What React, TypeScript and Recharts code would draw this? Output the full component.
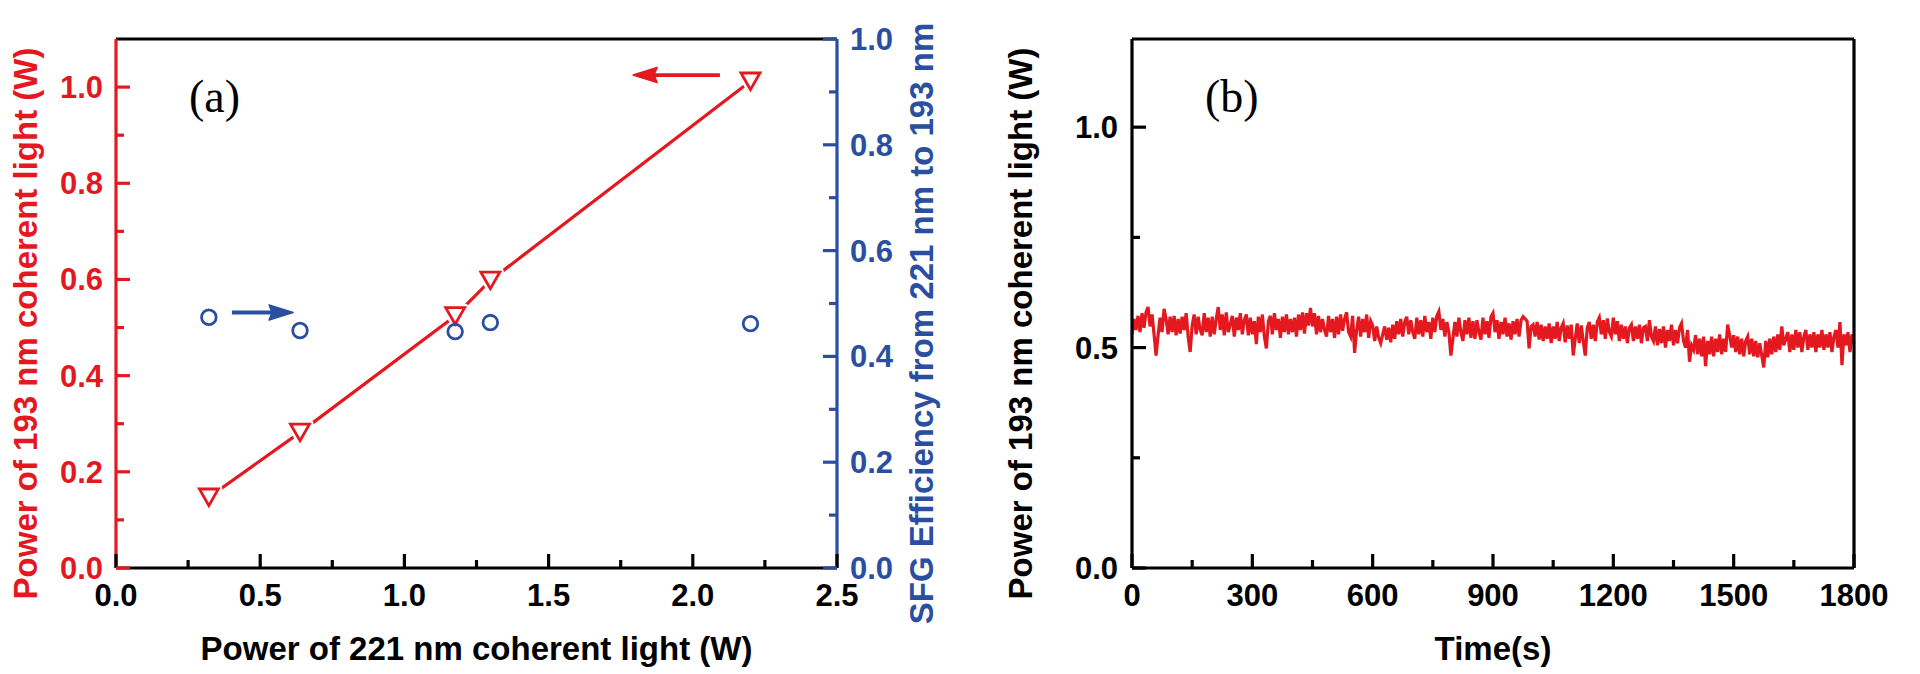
import React from 'react';
import { ComposedChart, LineChart, Line, Scatter, XAxis, YAxis, ReferenceLine, Label } from 'recharts';

const RED = '#E3191F';
const BLUE = '#2A4FA0';
const BLACK = '#000000';
const FONT = '"Liberation Sans", Arial, sans-serif';
const SERIF = '"Liberation Serif", "DejaVu Serif", serif';

// ---------- panel (a) data ----------
const pump221W = [0.322, 0.638, 1.176, 1.298, 2.2];
const power193W = [0.147, 0.282, 0.524, 0.598, 1.012];
const sfgEfficiency = [0.474, 0.449, 0.447, 0.464, 0.462];

const xTicksA = [0, 0.25, 0.5, 0.75, 1.0, 1.25, 1.5, 1.75, 2.0, 2.25, 2.5];
const xMajorA = [0, 0.5, 1.0, 1.5, 2.0, 2.5];
const leftTicksA = [0, 0.1, 0.2, 0.3, 0.4, 0.5, 0.6, 0.7, 0.8, 0.9, 1.0];
const leftMajorA = [0, 0.2, 0.4, 0.6, 0.8, 1.0];
const rightTicksA = [0, 0.1, 0.2, 0.3, 0.4, 0.5, 0.6, 0.7, 0.8, 0.9, 1.0];
const rightMajorA = [0, 0.2, 0.4, 0.6, 0.8, 1.0];

// annotation arrows (data units)
const effArrow = [{ x: 0.402, y: 0.483 }, { x: 0.614, y: 0.483 }];
const powArrow = [{ x: 2.094, y: 1.025 }, { x: 1.793, y: 1.025 }];

// ---------- panel (b) data ----------
const sampleIntervalS = 5;
const power193Time = [
  0.53, 0.565, 0.54, 0.572, 0.535, 0.578, 0.545, 0.58, 0.592, 0.548, 0.575, 0.53, 0.482, 0.528, 0.568, 0.535, 0.588, 0.565, 0.53, 0.57,
  0.535, 0.572, 0.528, 0.565, 0.532, 0.57, 0.54, 0.578, 0.525, 0.49, 0.55, 0.575, 0.53, 0.57, 0.54, 0.528, 0.578, 0.535, 0.568, 0.525,
  0.57, 0.53, 0.565, 0.592, 0.54, 0.575, 0.528, 0.58, 0.535, 0.552, 0.572, 0.525, 0.568, 0.54, 0.578, 0.53, 0.562, 0.575, 0.528, 0.568,
  0.53, 0.56, 0.508, 0.57, 0.535, 0.575, 0.525, 0.498, 0.56, 0.572, 0.53, 0.578, 0.54, 0.565, 0.522, 0.57, 0.535, 0.575, 0.53, 0.565,
  0.535, 0.568, 0.525, 0.575, 0.54, 0.58, 0.532, 0.578, 0.55, 0.59, 0.548, 0.578, 0.53, 0.572, 0.535, 0.565, 0.54, 0.525, 0.572, 0.535,
  0.565, 0.522, 0.57, 0.53, 0.575, 0.538, 0.565, 0.58, 0.535, 0.525, 0.572, 0.488, 0.54, 0.57, 0.525, 0.565, 0.535, 0.575, 0.522, 0.56,
  0.55, 0.515, 0.548, 0.522, 0.51, 0.53, 0.548, 0.518, 0.545, 0.512, 0.552, 0.52, 0.56, 0.53, 0.565, 0.525, 0.558, 0.57, 0.53, 0.562,
  0.535, 0.52, 0.568, 0.53, 0.562, 0.525, 0.572, 0.535, 0.558, 0.52, 0.568, 0.535, 0.572, 0.582, 0.54, 0.565, 0.525, 0.558, 0.535, 0.482,
  0.52, 0.558, 0.525, 0.568, 0.535, 0.515, 0.562, 0.53, 0.568, 0.522, 0.56, 0.52, 0.562, 0.535, 0.518, 0.568, 0.53, 0.56, 0.522, 0.57,
  0.578, 0.535, 0.562, 0.52, 0.558, 0.53, 0.568, 0.525, 0.555, 0.518, 0.56, 0.53, 0.565, 0.525, 0.562, 0.57, 0.565, 0.56, 0.498, 0.548,
  0.552, 0.525, 0.558, 0.518, 0.552, 0.515, 0.548, 0.52, 0.555, 0.51, 0.548, 0.52, 0.558, 0.515, 0.545, 0.555, 0.512, 0.55, 0.52, 0.552,
  0.482, 0.52, 0.555, 0.51, 0.55, 0.515, 0.482, 0.545, 0.558, 0.52, 0.552, 0.515, 0.558, 0.568, 0.53, 0.562, 0.52, 0.566, 0.535, 0.525,
  0.568, 0.53, 0.56, 0.515, 0.552, 0.52, 0.548, 0.51, 0.545, 0.552, 0.515, 0.548, 0.52, 0.552, 0.51, 0.545, 0.548, 0.515, 0.562, 0.525,
  0.515, 0.548, 0.505, 0.542, 0.51, 0.548, 0.5, 0.54, 0.515, 0.552, 0.505, 0.54, 0.51, 0.545, 0.555, 0.515, 0.5, 0.54, 0.468, 0.505,
  0.495, 0.528, 0.485, 0.52, 0.48, 0.525, 0.458, 0.515, 0.485, 0.525, 0.48, 0.52, 0.49, 0.53, 0.485, 0.52, 0.49, 0.552, 0.528, 0.5,
  0.528, 0.49, 0.525, 0.485, 0.52, 0.48, 0.515, 0.525, 0.485, 0.52, 0.48, 0.515, 0.478, 0.51, 0.482, 0.455, 0.515, 0.478, 0.52, 0.485,
  0.525, 0.49, 0.53, 0.495, 0.548, 0.505, 0.52, 0.535, 0.49, 0.53, 0.495, 0.54, 0.5, 0.535, 0.49, 0.525, 0.54, 0.495, 0.53, 0.5,
  0.535, 0.49, 0.53, 0.5, 0.54, 0.495, 0.53, 0.5, 0.535, 0.49, 0.525, 0.54, 0.5, 0.558, 0.46, 0.53, 0.505, 0.535, 0.49, 0.53,
  0.51,
];

const xTicksB = [0, 150, 300, 450, 600, 750, 900, 1050, 1200, 1350, 1500, 1650, 1800];
const xMajorB = [0, 300, 600, 900, 1200, 1500, 1800];
const yTicksB = [0, 0.25, 0.5, 0.75, 1.0];
const yMajorB = [0, 0.5, 1.0];

// ---------- tables ----------
const tableA = pump221W.map((x, i) => ({ x, p193: power193W[i], eff: sfgEfficiency[i] }));
const tableB = power193Time.map((p, i) => ({ t: i * sampleIntervalS, p }));

// ---------- helpers ----------
const isMajor = (v: number, majors: number[]) => majors.some((m) => Math.abs(m - v) < 1e-9);
const MAJOR_LEN = 14;
const MINOR_LEN = 8;
const TICK_W = 3.2;
const TICK_FS = 31;

const bottomTick = (majors: number[], fmt: (v: number) => string, color: string) => (props: any) => {
  const { x, y, payload } = props;
  const v = payload.value;
  const maj = isMajor(v, majors);
  return (
    <g>
      <line x1={x} x2={x} y1={y} y2={y - (maj ? MAJOR_LEN : MINOR_LEN)} stroke={color} strokeWidth={TICK_W} />
      {maj && (
        <text x={x} y={y + 38} textAnchor="middle" fill={color} fontFamily={FONT} fontWeight={700} fontSize={TICK_FS}>
          {fmt(v)}
        </text>
      )}
    </g>
  );
};

const leftTick = (majors: number[], fmt: (v: number) => string, color: string, gap: number) => (props: any) => {
  const { x, y, payload } = props;
  const v = payload.value;
  const maj = isMajor(v, majors);
  return (
    <g>
      <line x1={x} x2={x + (maj ? MAJOR_LEN : MINOR_LEN)} y1={y} y2={y} stroke={color} strokeWidth={TICK_W} />
      {maj && (
        <text x={x - gap} y={y + 11} textAnchor="end" fill={color} fontFamily={FONT} fontWeight={700} fontSize={TICK_FS}>
          {fmt(v)}
        </text>
      )}
    </g>
  );
};

const rightTick = (majors: number[], fmt: ((v: number) => string) | null, color: string, gap: number) => (props: any) => {
  const { x, y, payload } = props;
  const v = payload.value;
  const maj = isMajor(v, majors);
  return (
    <g>
      <line x1={x} x2={x - (maj ? MAJOR_LEN : MINOR_LEN)} y1={y} y2={y} stroke={color} strokeWidth={TICK_W} />
      {maj && fmt && (
        <text x={x + gap} y={y + 11} textAnchor="start" fill={color} fontFamily={FONT} fontWeight={700} fontSize={TICK_FS}>
          {fmt(v)}
        </text>
      )}
    </g>
  );
};

const fmt1 = (v: number) => v.toFixed(1);
const fmt0 = (v: number) => String(Math.round(v));

type Place = (vb: any) => { x: number; y: number; rot: boolean };
const titleLabel = (text: string, color: string, place: Place) => (props: any) => {
  const vb = props.viewBox || { x: 0, y: 0, width: 0, height: 0 };
  const { x, y, rot } = place(vb);
  return (
    <text
      x={x}
      y={y}
      transform={rot ? `rotate(-90 ${x} ${y})` : undefined}
      textAnchor="middle"
      fill={color}
      fontFamily={FONT}
      fontWeight={700}
      fontSize={33}
    >
      {text}
    </text>
  );
};

const panelLabel = (text: string) => (props: any) => {
  const vb = props.viewBox || { x: 0, y: 0, width: 0, height: 0 };
  return (
    <text x={vb.x + 73} y={vb.y + vb.height + 73} textAnchor="start" fill={BLACK} fontFamily={SERIF} fontSize={46}>
      {text}
    </text>
  );
};

const arrowShape = (color: string) => (props: any) => {
  const { x1, y1, x2, y2 } = props;
  const dx = x2 - x1;
  const dy = y2 - y1;
  const len = Math.sqrt(dx * dx + dy * dy) || 1;
  const ux = dx / len;
  const uy = dy / len;
  const headL = 24;
  const headW = 7.5;
  const bx = x2 - ux * headL;
  const by = y2 - uy * headL;
  const pts = `${x2},${y2} ${bx - uy * headW},${by + ux * headW} ${bx + ux * 3},${by + uy * 3} ${bx + uy * headW},${by - ux * headW}`;
  return (
    <g>
      <line x1={x1} y1={y1} x2={bx + ux * 5} y2={by + uy * 5} stroke={color} strokeWidth={3.8} />
      <polygon points={pts} fill={color} stroke={color} strokeWidth={1.5} strokeLinejoin="round" />
    </g>
  );
};

const TriangleDot = (props: any) => {
  const { cx, cy, index } = props;
  if (cx == null || cy == null) return <g key={`tri-${index}`} />;
  const hw = 9.5;
  const hh = 8.3;
  const pts = `${cx - hw},${cy - hh} ${cx + hw},${cy - hh} ${cx},${cy + hh}`;
  return (
    <g key={`tri-${index}`}>
      <polygon points={pts} fill="#ffffff" stroke="#ffffff" strokeWidth={8} strokeLinejoin="round" />
      <polygon points={pts} fill="#ffffff" stroke={RED} strokeWidth={2.8} strokeLinejoin="miter" />
    </g>
  );
};

const CircleShape = (props: any) => {
  const { cx, cy } = props;
  if (cx == null || cy == null) return <g />;
  return <circle cx={cx} cy={cy} r={7.3} fill="none" stroke={BLUE} strokeWidth={2.8} />;
};

const axisLineStyle = (color: string) => ({ stroke: color, strokeWidth: 3.2 });

export default function App() {
  return (
    <div style={{ position: 'absolute', left: 0, top: 0, width: 1920, height: 674, background: '#ffffff' }}>
      <div style={{ position: 'absolute', left: 0, top: 0 }}>
        <ComposedChart width={960} height={674} data={tableA} margin={{ top: 38, right: 122, bottom: 105, left: 115 }}>
          <XAxis
            dataKey="x"
            type="number"
            domain={[0, 2.5]}
            ticks={xTicksA}
            interval={0}
            height={1}
            tickSize={0}
            tickMargin={0}
            tickLine={false}
            axisLine={axisLineStyle(BLACK)}
            tick={bottomTick(xMajorA, fmt1, BLACK)}
          >
            <Label
              content={titleLabel('Power of 221 nm coherent light (W)', BLACK, (vb) => ({
                x: vb.x + vb.width / 2,
                y: vb.y + 92,
                rot: false,
              }))}
            />
          </XAxis>
          <XAxis
            xAxisId="top"
            orientation="top"
            type="number"
            domain={[0, 2.5]}
            height={1}
            tick={false}
            tickLine={false}
            axisLine={axisLineStyle(BLACK)}
          >
            <Label content={panelLabel('(a)')} />
          </XAxis>
          <YAxis
            yAxisId="left"
            type="number"
            domain={[0, 1.1]}
            ticks={leftTicksA}
            interval={0}
            width={1}
            tickSize={0}
            tickMargin={0}
            tickLine={false}
            axisLine={axisLineStyle(RED)}
            tick={leftTick(leftMajorA, fmt1, RED, 13)}
          >
            <Label
              content={titleLabel('Power of 193 nm coherent light (W)', RED, (vb) => ({
                x: vb.x + vb.width - 79,
                y: vb.y + vb.height / 2 + 20,
                rot: true,
              }))}
            />
          </YAxis>
          <YAxis
            yAxisId="right"
            orientation="right"
            type="number"
            domain={[0, 1.0]}
            ticks={rightTicksA}
            interval={0}
            width={1}
            tickSize={0}
            tickMargin={0}
            tickLine={false}
            axisLine={axisLineStyle(BLUE)}
            tick={rightTick(rightMajorA, fmt1, BLUE, 13)}
          >
            <Label
              content={titleLabel('SFG Efficiency from 221 nm to 193 nm', BLUE, (vb) => ({
                x: vb.x + 96,
                y: vb.y + vb.height / 2 + 20,
                rot: true,
              }))}
            />
          </YAxis>
          <Line
            yAxisId="left"
            dataKey="p193"
            stroke={RED}
            strokeWidth={3.2}
            dot={TriangleDot}
            activeDot={false}
            isAnimationActive={false}
          />
          <Scatter yAxisId="right" dataKey="eff" shape={CircleShape} isAnimationActive={false} />
          <ReferenceLine yAxisId="right" segment={effArrow} shape={arrowShape(BLUE)} ifOverflow="visible" />
          <ReferenceLine yAxisId="left" segment={powArrow} shape={arrowShape(RED)} ifOverflow="visible" />
        </ComposedChart>
      </div>
      <div style={{ position: 'absolute', left: 960, top: 0 }}>
        <LineChart width={960} height={674} data={tableB} margin={{ top: 38, right: 65, bottom: 105, left: 171 }}>
          <XAxis
            dataKey="t"
            type="number"
            domain={[0, 1800]}
            ticks={xTicksB}
            interval={0}
            height={1}
            tickSize={0}
            tickMargin={0}
            tickLine={false}
            axisLine={axisLineStyle(BLACK)}
            tick={bottomTick(xMajorB, fmt0, BLACK)}
          >
            <Label
              content={titleLabel('Time(s)', BLACK, (vb) => ({ x: vb.x + vb.width / 2, y: vb.y + 92, rot: false }))}
            />
          </XAxis>
          <XAxis
            xAxisId="top"
            orientation="top"
            type="number"
            domain={[0, 1800]}
            height={1}
            tick={false}
            tickLine={false}
            axisLine={axisLineStyle(BLACK)}
          >
            <Label content={panelLabel('(b)')} />
          </XAxis>
          <YAxis
            type="number"
            domain={[0, 1.2]}
            ticks={yTicksB}
            interval={0}
            width={1}
            tickSize={0}
            tickMargin={0}
            tickLine={false}
            axisLine={axisLineStyle(BLACK)}
            tick={leftTick(yMajorB, fmt1, BLACK, 14)}
          >
            <Label
              content={titleLabel('Power of 193 nm coherent light (W)', BLACK, (vb) => ({
                x: vb.x + vb.width - 100,
                y: vb.y + vb.height / 2 + 20,
                rot: true,
              }))}
            />
          </YAxis>
          <YAxis
            yAxisId="r"
            orientation="right"
            type="number"
            domain={[0, 1.2]}
            ticks={yTicksB}
            interval={0}
            width={1}
            tickSize={0}
            tickMargin={0}
            tickLine={false}
            axisLine={axisLineStyle(BLACK)}
            tick={rightTick(yMajorB, null, BLACK, 0)}
          />
          <Line dataKey="p" stroke={RED} strokeWidth={3.2} dot={false} activeDot={false} isAnimationActive={false} />
        </LineChart>
      </div>
    </div>
  );
}
